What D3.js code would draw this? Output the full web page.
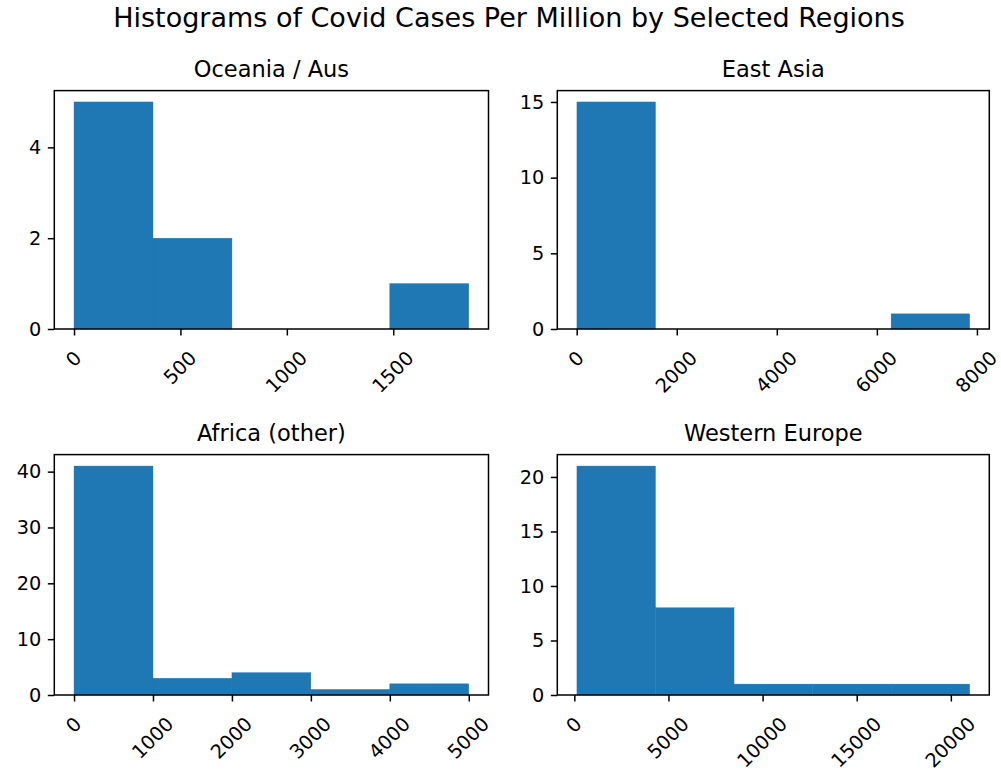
<!DOCTYPE html>
<html>
<head>
<meta charset="utf-8">
<script src="https://cdn.jsdelivr.net/npm/d3@7"></script>
<style>
  html, body { margin: 0; padding: 0; background: #fff; }
  svg { display: block; }
  text { font-family: "DejaVu Sans", sans-serif; fill: #000; }
</style>
</head>
<body>
<div id="chart"></div>
<script>
// ---- data ----
const chartTitle = "Histograms of Covid Cases Per Million by Selected Regions";
const regions = ["Oceania / Aus", "East Asia", "Africa (other)", "Western Europe"];

const oceaniaEdges = [0, 371, 742, 1113, 1484, 1855];
const oceaniaCounts = [5, 2, 0, 0, 1];
const eastAsiaEdges = [5, 1575, 3145, 4715, 6285, 7855];
const eastAsiaCounts = [15, 0, 0, 0, 1];
const africaEdges = [0, 1000, 2000, 3000, 4000, 5000];
const africaCounts = [41, 3, 4, 1, 2];
const westEuropeEdges = [138, 4310, 8483, 12655, 16828, 21000];
const westEuropeCounts = [21, 8, 1, 1, 1];

const oceaniaXTicks = [0, 500, 1000, 1500];
const eastAsiaXTicks = [0, 2000, 4000, 6000, 8000];
const africaXTicks = [0, 1000, 2000, 3000, 4000, 5000];
const westEuropeXTicks = [0, 5000, 10000, 15000, 20000];

const oceaniaYTicks = [0, 2, 4];
const eastAsiaYTicks = [0, 5, 10, 15];
const africaYTicks = [0, 10, 20, 30, 40];
const westEuropeYTicks = [0, 5, 10, 15, 20];

const panels = [
  { title: regions[0], edges: oceaniaEdges, counts: oceaniaCounts, xTicks: oceaniaXTicks, yTicks: oceaniaYTicks },
  { title: regions[1], edges: eastAsiaEdges, counts: eastAsiaCounts, xTicks: eastAsiaXTicks, yTicks: eastAsiaYTicks },
  { title: regions[2], edges: africaEdges, counts: africaCounts, xTicks: africaXTicks, yTicks: africaYTicks },
  { title: regions[3], edges: westEuropeEdges, counts: westEuropeCounts, xTicks: westEuropeXTicks, yTicks: westEuropeYTicks }
];

// ---- layout ----
const W = 1001, H = 776;
const cols = [[54.3, 488.5], [557.3, 989.3]];
const rows = [[90.6, 329], [454.6, 695]];
const tickLen = 6.5, lineW = 1.5;
const tickFont = 19.3, titleFont = 22.5, supFont = 27;
const barColor = "#1f77b4";
const textColor = "#111";

const svg = d3.select("#chart").append("svg").attr("width", W).attr("height", H);

svg.append("text")
  .attr("x", 509).attr("y", 27)
  .attr("text-anchor", "middle")
  .style("font-size", supFont + "px")
  .attr("fill", textColor)
  .text(chartTitle);

panels.forEach((p, i) => {
  const [x0, x1] = cols[i % 2];
  const [y0, y1] = rows[Math.floor(i / 2)];
  const lo = p.edges[0], hi = p.edges[p.edges.length - 1];
  const m = (hi - lo) * 0.05;
  const x = d3.scaleLinear().domain([lo - m, hi + m]).range([x0, x1]);
  const yMax = d3.max(p.counts) * 1.05;
  const y = d3.scaleLinear().domain([0, yMax]).range([y1, y0]);

  const g = svg.append("g");

  // bars
  const bins = p.counts.map((c, k) => ({ a: p.edges[k], b: p.edges[k + 1], c }));
  g.selectAll("rect.bar").data(bins.filter(d => d.c > 0)).join("rect")
    .attr("class", "bar")
    .attr("x", d => x(d.a))
    .attr("width", d => x(d.b) - x(d.a))
    .attr("y", d => y(d.c))
    .attr("height", d => y(0) - y(d.c))
    .attr("fill", barColor)
    .attr("stroke", barColor)
    .attr("stroke-width", 0.4);

  // frame
  g.append("rect")
    .attr("x", x0).attr("y", y0)
    .attr("width", x1 - x0).attr("height", y1 - y0)
    .attr("fill", "none").attr("stroke", "#000").attr("stroke-width", lineW);

  // y axis
  const yAxis = d3.axisLeft(y).tickValues(p.yTicks).tickSize(tickLen).tickPadding(6.5).tickFormat(d3.format("d"));
  const ya = g.append("g").attr("transform", `translate(${x0},0)`).call(yAxis);
  ya.select(".domain").remove();
  ya.selectAll(".tick line").attr("stroke", "#000").attr("stroke-width", lineW);
  ya.selectAll(".tick text").style("font-size", tickFont + "px").style("font-family", "DejaVu Sans").attr("fill", textColor);

  // x axis
  const xAxis = d3.axisBottom(x).tickValues(p.xTicks).tickSize(tickLen).tickFormat(d3.format("d"));
  const xa = g.append("g").attr("transform", `translate(0,${y1})`).call(xAxis);
  xa.select(".domain").remove();
  xa.selectAll(".tick line").attr("stroke", "#000").attr("stroke-width", lineW);
  xa.selectAll(".tick text").each(function () {
    const t = d3.select(this);
    t.style("font-size", tickFont + "px").style("font-family", "DejaVu Sans").attr("fill", textColor);
    const w = this.getComputedTextLength();
    const h = tickFont * 0.97;
    const side = (w + h) / Math.SQRT2;
    const cy = 20 + side / 2;
    t.attr("y", null).attr("dy", null)
      .attr("text-anchor", "middle")
      .attr("transform", `translate(0,${cy}) rotate(-45)`)
      .attr("y", tickFont * 0.276);
  });

  // subplot title
  svg.append("text")
    .attr("x", (x0 + x1) / 2).attr("y", y0 - 13.5)
    .attr("text-anchor", "middle")
    .style("font-size", titleFont + "px")
    .attr("fill", textColor)
    .text(p.title);
});
</script>
</body>
</html>
